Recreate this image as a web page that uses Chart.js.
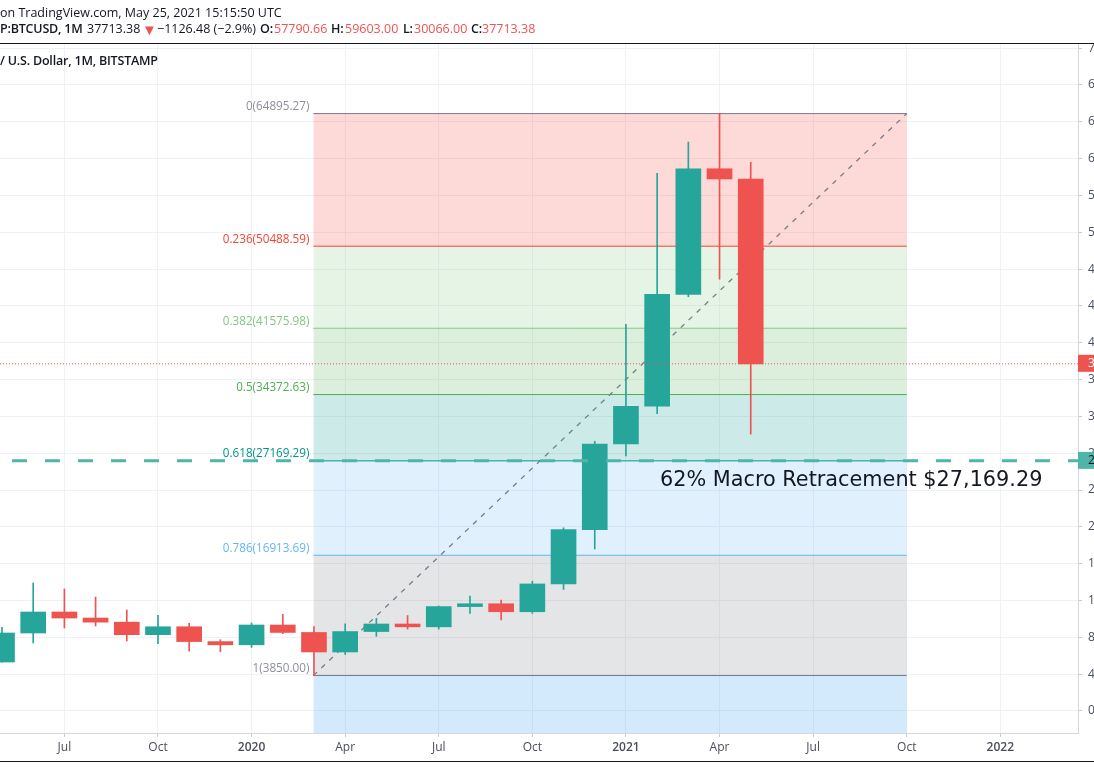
<!DOCTYPE html>
<html>
<head>
<meta charset="utf-8">
<title>BTCUSD</title>
<script src="https://cdn.jsdelivr.net/npm/chart.js@4"></script>
<style>
    html, body { margin: 0; padding: 0; background: #fff; overflow: hidden; }
    #wrap { position: relative; width: 1094px; height: 768px; overflow: hidden; font-family: "Open Sans", sans-serif; color: #131722; }
    #myChart { position: absolute; left: 0; top: 0; }
    .txt { position: absolute; white-space: nowrap; font-size: 12.5px; line-height: 16px; }
    .bold { font-weight: 600; letter-spacing: -0.2px; }
    .red { color: #ef5350; }
    .rule { position: absolute; left: 0; width: 1094px; height: 1px; background: #131722; }
</style>
</head>
<body>
<div id="wrap">
    <canvas id="myChart" width="1094" height="768"></canvas>
    <div class="rule" style="top:43px"></div>
    <div class="rule" style="top:761px"></div>
    <div class="txt" style="left:0;top:5px">on TradingView.com, May 25, 2021 15:15:50 UTC</div>
    <div class="txt bold" style="left:0;top:21px">P:BTCUSD, 1M</div>
    <div class="txt" style="left:87px;top:21px">37713.38</div>
    <div class="txt red" style="left:142px;top:21px;font-size:15px">▼</div>
    <div class="txt" style="left:157px;top:21px">−1126.48 (−2.9%)</div>
    <div class="txt bold" style="left:260px;top:21px">O:</div>
    <div class="txt red" style="left:274px;top:21px">57790.66</div>
    <div class="txt bold" style="left:331px;top:21px">H:</div>
    <div class="txt red" style="left:345px;top:21px">59603.00</div>
    <div class="txt bold" style="left:403px;top:21px">L:</div>
    <div class="txt red" style="left:414px;top:21px">30066.00</div>
    <div class="txt bold" style="left:471px;top:21px">C:</div>
    <div class="txt red" style="left:482px;top:21px">37713.38</div>
    <div class="txt bold" style="left:0;top:53px">/ U.S. Dollar, 1M, BITSTAMP</div>
</div>
<script>
// monthly candles, May 2019 to May 2021
var opens  = [5320, 8473, 10754, 10100, 9650, 8290, 9150, 7540, 7190, 9340, 8530, 6410, 8630, 9450, 9140, 11340, 11650, 10780, 13800, 19700, 29000, 33100, 45250, 58900, 57790.66];
var highs  = [9075, 13904, 13252, 12380, 10970, 10400, 9530, 7750, 9560, 10500, 9160, 9460, 10070, 10370, 11400, 12480, 12050, 14100, 19900, 29300, 42000, 58400, 61800, 64895.27, 59603];
var lows   = [5300, 7387, 9016, 9233, 7600, 7300, 6500, 6430, 6900, 8400, 3850, 6150, 8110, 8900, 8900, 10600, 9880, 10600, 13200, 17600, 27700, 32300, 45000, 46900, 30066];
var closes = [8473, 10754, 10100, 9650, 8290, 9150, 7540, 7190, 9340, 8530, 6410, 8630, 9450, 9140, 11340, 11650, 10780, 13800, 19700, 29000, 33100, 45250, 58900, 57790.66, 37713.38];

// fib retracement
var fibRatios = ["0", "0.236", "0.382", "0.5", "0.618", "0.786", "1"];
var fibValues = [64895.27, 50488.59, 41575.98, 34372.63, 27169.29, 16913.69, 3850];
var fibLineColors = ["#787b86", "#f44336", "#81c784", "#4caf50", "#009688", "#64b5f6", "#787b86"];
var fibFillColors = ["rgba(244,67,54,.2)", "rgba(129,199,132,.2)", "rgba(76,175,80,.2)", "rgba(0,150,136,.2)", "rgba(100,181,246,.2)", "rgba(120,123,134,.2)", "rgba(33,150,243,.2)"];
var fibTextColors = ["#8c8f99", "#f44336", "#81c784", "#4caf50", "#009688", "#64b5f6", "#8c8f99"];
var fibStart = 9.98;  // Mar 2020
var fibEnd = 29;      // Oct 2021

var lastPrice = 37713.38;
var macroLevel = 27169.29;
var macroText = "62% Macro Retracement $27,169.29";
var macroTextAt = 21.09;

var xTicks = [2, 5, 8, 11, 14, 17, 20, 23, 26, 29, 32];
var xLabels = ["Jul", "Oct", "2020", "Apr", "Jul", "Oct", "2021", "Apr", "Jul", "Oct", "2022"];
var yTicks = [0, 4000, 8000, 12000, 16000, 20000, 24000, 28000, 32000, 36000, 40000, 44000, 48000, 52000, 56000, 60000, 64000, 68000, 72000];

var xMin = -0.064, xMax = 34.49;
var yMin = -2390, yMax = 72560;

var TEAL = "#26a69a", RED = "#ef5350";

function candleColor(i) {
    return closes[i] >= opens[i] ? TEAL : RED;
}

var datasets = [];

// bands and level lines, each one fills down to the next
for (var i = 0; i < fibValues.length; i++) {
    datasets.push({
        type: "line",
        data: [{x: fibStart, y: fibValues[i]}, {x: fibEnd, y: fibValues[i]}],
        borderColor: fibLineColors[i],
        borderWidth: 1,
        pointRadius: 0,
        fill: "+1",
        backgroundColor: fibFillColors[i],
        order: 10
    });
}
datasets.push({
    type: "line",
    data: [{x: fibStart, y: yMin}, {x: fibEnd, y: yMin}],
    borderWidth: 0,
    pointRadius: 0,
    fill: false,
    order: 10
});

// trend line of the fib tool
datasets.push({
    type: "line",
    data: [{x: fibStart, y: fibValues[6]}, {x: fibEnd, y: fibValues[0]}],
    borderColor: "#787b86",
    borderWidth: 1.3,
    borderDash: [5, 6],
    pointRadius: 0,
    fill: false,
    order: 9
});

var wicks = [], bodies = [], colors = [];
for (var j = 0; j < opens.length; j++) {
    wicks.push({x: j, y: [lows[j], highs[j]]});
    bodies.push({x: j, y: [opens[j], closes[j]]});
    colors.push(candleColor(j));
}
datasets.push({data: wicks, backgroundColor: colors, barThickness: 1, grouped: false, order: 5});
datasets.push({data: bodies, backgroundColor: colors, barThickness: 25, grouped: false, order: 4});

// last price, dotted
datasets.push({
    type: "line",
    data: [{x: xMin, y: lastPrice}, {x: xMax, y: lastPrice}],
    borderColor: RED,
    borderWidth: 1,
    borderDash: [1, 2],
    pointRadius: 0,
    fill: false,
    order: 3
});
// macro level, thick dashes
datasets.push({
    type: "line",
    data: [{x: 0.32, y: macroLevel}, {x: xMax, y: macroLevel}],
    borderColor: "#4fb5a8",
    borderWidth: 3,
    borderDash: [15, 18],
    pointRadius: 0,
    fill: false,
    order: 1
});

// the texts tied to price levels
var levelText = {
    id: "levelText",
    afterDatasetsDraw: function(chart) {
        var ctx = chart.ctx, x = chart.scales.x, y = chart.scales.y;
        ctx.save();
        ctx.textBaseline = "middle";

        ctx.font = "11.7px 'Open Sans'";
        ctx.textAlign = "right";
        for (var i = 0; i < fibValues.length; i++) {
            ctx.fillStyle = fibTextColors[i];
            ctx.fillText(fibRatios[i] + "(" + fibValues[i].toFixed(2) + ")", x.getPixelForValue(fibStart) - 4, y.getPixelForValue(fibValues[i]) - 7);
        }

        ctx.font = "20.8px 'DejaVu Sans'";
        ctx.textAlign = "left";
        ctx.fillStyle = "#131722";
        ctx.fillText(macroText, x.getPixelForValue(macroTextAt), y.getPixelForValue(macroLevel) + 20);
        ctx.restore();
    },
    afterDraw: function(chart) {
        var ctx = chart.ctx, a = chart.chartArea, y = chart.scales.y;
        ctx.save();
        ctx.font = "12px 'Open Sans'";
        ctx.textBaseline = "middle";
        ctx.textAlign = "left";
        var py = y.getPixelForValue(lastPrice);
        ctx.fillStyle = RED;
        ctx.fillRect(a.right, py - 9, 16, 17);
        ctx.fillStyle = "#fff";
        ctx.fillText(lastPrice.toFixed(2), a.right + 10, py);
        py = y.getPixelForValue(macroLevel);
        ctx.fillStyle = "#4fb5a8";
        ctx.fillRect(a.right, py - 9, 16, 17);
        ctx.fillStyle = "#131722";
        ctx.fillText(macroLevel.toFixed(2), a.right + 10, py);
        ctx.restore();
    }
};

var ctx = document.getElementById("myChart");
var myChart = new Chart(ctx, {
    type: "bar",
    data: {datasets: datasets},
    plugins: [levelText],
    options: {
        responsive: false,
        animation: false,
        devicePixelRatio: 1,
        layout: {padding: {top: 43, left: 0, right: 0, bottom: 0}},
        plugins: {legend: {display: false}, tooltip: {enabled: false}},
        scales: {
            x: {
                type: "linear",
                offset: false,
                min: xMin,
                max: xMax,
                afterFit: function(scale) { scale.height = 35; },
                afterBuildTicks: function(scale) {
                    scale.ticks = xTicks.map(function(v) { return {value: v}; });
                },
                grid: {offset: false, color: "#f0f1f4", tickColor: "#c9cbd1", tickLength: 4},
                border: {color: "#d6d8dd"},
                ticks: {
                    autoSkip: false,
                    maxRotation: 0,
                    padding: 3,
                    color: "#4a4e5a",
                    font: function(c) {
                        var isYear = c.tick && String(xLabels[xTicks.indexOf(c.tick.value)]).length == 4;
                        return {family: "'Open Sans'", size: 12, weight: isYear ? "600" : "400"};
                    },
                    callback: function(v) { return xLabels[xTicks.indexOf(v)]; }
                }
            },
            y: {
                position: "right",
                min: yMin,
                max: yMax,
                afterFit: function(scale) { scale.width = 16; },
                afterBuildTicks: function(scale) {
                    scale.ticks = yTicks.map(function(v) { return {value: v}; });
                },
                grid: {color: "#f0f1f4", tickColor: "#c9cbd1", tickLength: 4},
                border: {color: "#d6d8dd"},
                ticks: {
                    padding: 6,
                    color: "#4a4e5a",
                    font: {family: "'Open Sans'", size: 12},
                    callback: function(v) { return String(v); }
                }
            }
        }
    }
});
</script>
</body>
</html>
